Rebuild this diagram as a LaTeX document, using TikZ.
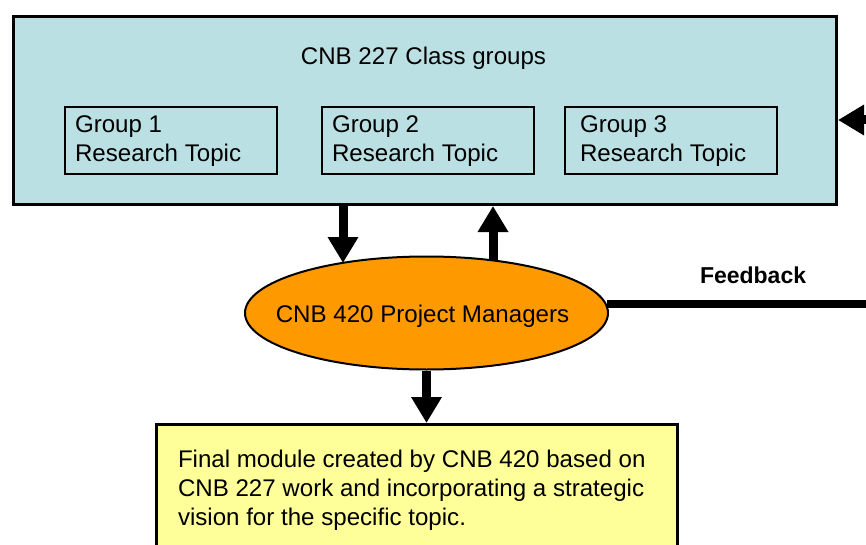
\documentclass[tikz,border=0pt]{standalone}
\usepackage{fontspec}
\setmainfont{Liberation Sans}
\usetikzlibrary{arrows.meta,shapes.geometric}
\definecolor{groupblue}{HTML}{BBE0E3}
\definecolor{pmorange}{HTML}{FF9900}
\definecolor{notepale}{HTML}{FFFF99}
\begin{document}
\begin{tikzpicture}[x=1pt,y=-1pt,
  txt/.style={font=\fontsize{24.1}{29}\selectfont, inner sep=0pt, outer sep=0pt},
  frame/.style={draw=black, line width=3pt, inner sep=0pt, anchor=north west},
  groupbox/.style={draw=black, line width=2pt, inner sep=0pt, anchor=north west,
    minimum width=212pt, minimum height=67pt},
  flow/.style={line width=9pt, -{Triangle[length=26pt,width=29pt]}},
]
\clip (0,0) rectangle (866,545);
\fill[white] (0,0) rectangle (866,545);

% class groups panel
\node[frame, fill=groupblue, minimum width=823pt, minimum height=188pt] (classes) at (12,15) {};
\node[txt, anchor=base] (title) at (423.5,65) {CNB 227 Class groups};

\node[groupbox] (g1) at (64,106) {};
\node[groupbox] (g2) at (321,106) {};
\node[groupbox] (g3) at (564,106) {};
\node[txt, anchor=base west] (g1a) at (75,133) {Group 1};
\node[txt, anchor=base west] (g1b) at (75,162) {Research Topic};
\node[txt, anchor=base west] (g2a) at (332,133) {Group 2};
\node[txt, anchor=base west] (g2b) at (332,162) {Research Topic};
\node[txt, anchor=base west] (g3a) at (580,133) {Group 3};
\node[txt, anchor=base west] (g3b) at (580,162) {Research Topic};

% project managers
\node[ellipse, draw=black, line width=2pt, fill=pmorange, inner sep=0pt,
  minimum width=363pt, minimum height=113pt] (pm) at (426.5,313) {};
\node[txt, anchor=base] (pmtext) at (422.5,322) {CNB 420 Project Managers};

% final module
\node[frame, fill=notepale, minimum width=521pt, minimum height=160pt] (note) at (155,423) {};
\node[txt, anchor=base west] (n1) at (178,467) {Final module created by CNB 420 based on};
\node[txt, anchor=base west] (n2) at (178,496) {CNB 227 work and incorporating a strategic};
\node[txt, anchor=base west] (n3) at (178,525) {vision for the specific topic.};

% feedback loop
\coordinate (fbend) at (900,302);
\coordinate (fbin) at (920,120);
\draw[line width=8pt] (pm.3) -- (pm.3 -| fbend);
\node[txt, font=\fontsize{23}{28}\selectfont\bfseries, anchor=base west] (fb) at (700,283) {Feedback};
\draw[flow] (fbin) -- (fbin -| classes.east);

% flows between panel, managers and module
\coordinate (downtip) at (343,263);
\coordinate (upfoot) at (493,261);
\draw[flow] (classes.south -| downtip) -- (downtip);
\draw[flow] (upfoot) -- (upfoot |- classes.south);
\draw[flow] (pm.south) -- (pm.south |- note.north);
\end{tikzpicture}
\end{document}
